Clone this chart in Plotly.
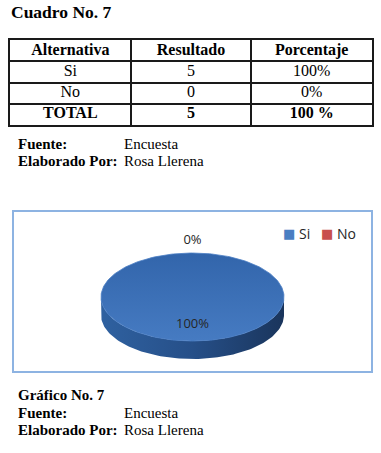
import numpy as np
import plotly.graph_objects as go

# ---------------- data ----------------
title_text = "Cuadro No. 7"
col_headers = ["Alternativa", "Resultado", "Porcentaje"]
alternativas = ["Si", "No", "TOTAL"]
resultados = [5, 0, 5]
porcentajes = ["100%", "0%", "100 %"]

pie_labels = ["Si", "No"]
pie_values = [5, 0]

fuente_label = "Fuente:"
fuente_value = "Encuesta"
elab_label = "Elaborado Por:"
elab_value = "Rosa Llerena"
grafico_title = "Gráfico No. 7"

# ---------------- style ----------------
W, H = 381, 453
SERIF = "Liberation Serif"
top_scales = {
    "Si": [[0, "#467BC2"], [1, "#3265AB"]],
    "No": [[0, "#D0605C"], [1, "#A63A37"]],
}
side_scales = {
    "Si": [[0, "#2F61A0"], [0.5, "#264F88"], [1, "#1A355C"]],
    "No": [[0, "#A33B38"], [0.5, "#8A2E2B"], [1, "#5E1D1B"]],
}
legend_colors = {"Si": "#4A7EC2", "No": "#C8504C"}

# pie geometry (pixel units of the full-page axes)
cx, cy, ra, rb, depth = 192.5, 297.0, 91.5, 44.0, 18.0


def ell(phi_deg, r=1.0, dy=0.0):
    p = np.radians(phi_deg)
    return cx + r * ra * np.sin(p), cy - r * rb * np.cos(p) + dy


fig = go.Figure()

# ---------------- table (drawn on its own axes: columns x 0..3, rows y 0..4) ----------------
def bold(s):
    return "<b>" + str(s) + "</b>"

columns = [alternativas, resultados, porcentajes]
tx, ty, tt = [], [], []
for ci, head in enumerate(col_headers):
    tx.append(ci + 0.5)
    ty.append(0.5)
    tt.append(bold(head))
    col = columns[ci]
    for ri, v in enumerate(col):
        tx.append(ci + 0.5)
        ty.append(ri + 1.5)
        tt.append(bold(v) if ri == len(col) - 1 else str(v))

fig.add_trace(go.Scatter(
    x=tx, y=ty, text=tt, mode="text", textposition="middle center",
    textfont=dict(family=SERIF, size=16, color="black"),
    xaxis="x2", yaxis="y2", hoverinfo="skip", showlegend=False,
))

# ---------------- 3D pie ----------------
total = float(sum(pie_values))
start = 0.0
slices = []
for lab, v in zip(pie_labels, pie_values):
    frac = v / total
    slices.append((lab, frac, start, start + 360.0 * frac))
    start += 360.0 * frac

# sides (front half only: angles 90..270 measured clockwise from top)
for lab, frac, p0, p1 in slices:
    lo, hi = max(p0, 90.0), min(p1, 270.0)
    if frac <= 0 or hi <= lo:
        continue
    ph = np.linspace(lo, hi, 120)
    xt, yt = ell(ph)
    xb, yb = ell(ph[::-1], dy=depth)
    fig.add_trace(go.Scatter(
        x=np.concatenate([xt, xb, xt[:1]]), y=np.concatenate([yt, yb, yt[:1]]),
        mode="lines", fill="toself", line=dict(width=0),
        fillgradient=dict(type="horizontal", colorscale=side_scales[lab]),
        hoverinfo="skip", showlegend=False,
    ))

# top faces
for lab, frac, p0, p1 in slices:
    if frac <= 0:
        continue
    ph = np.linspace(p0, p1, 240)
    xs, ys = ell(ph)
    if frac < 1:
        xs = np.concatenate([[cx], xs, [cx]])
        ys = np.concatenate([[cy], ys, [cy]])
    fig.add_trace(go.Scatter(
        x=xs, y=ys, mode="lines", fill="toself",
        line=dict(width=0.8, color="#4A7EC4"),
        fillgradient=dict(type="vertical", colorscale=top_scales[lab]),
        hoverinfo="skip", showlegend=False, name=lab,
    ))

# data labels
lx, ly, lt = [], [], []
for lab, frac, p0, p1 in slices:
    mid = (p0 + p1) / 2.0
    r = 0.62 if frac > 0.05 else 1.28
    x, y = ell(mid, r=r)
    lx.append(x)
    ly.append(y)
    lt.append(f"{round(frac * 100)}%")
fig.add_trace(go.Scatter(
    x=lx, y=ly, mode="text", text=lt,
    textfont=dict(family="Open Sans", size=13, color="#262626"),
    hoverinfo="skip", showlegend=False,
))

# chart frame
fig.add_shape(type="rect", xref="x", yref="y", x0=13, x1=372, y0=211, y1=372,
              line=dict(color="#8DB3E2", width=2), fillcolor="rgba(0,0,0,0)", layer="below")

# legend (as text)
leg_x = {"Si": (289, 297), "No": (327, 335)}
for lab in pie_labels:
    sx, lx_ = leg_x[lab]
    fig.add_annotation(x=sx, y=233, xref="x", yref="y", text="■", showarrow=False,
                       font=dict(family="DejaVu Sans", size=13, color=legend_colors[lab]),
                       xanchor="center", yanchor="middle")
    fig.add_annotation(x=lx_, y=233, xref="x", yref="y", text=lab, showarrow=False,
                       font=dict(family="Open Sans", size=14, color="#262626"),
                       xanchor="left", yanchor="middle")

# ---------------- document texts ----------------
def txt(x, y, s, size=15, is_bold=False):
    fig.add_annotation(x=x, y=y, xref="x", yref="y",
                       text=bold(s) if is_bold else s, showarrow=False,
                       font=dict(family=SERIF, size=size, color="black"),
                       xanchor="left", yanchor="middle")

txt(9, 12, title_text, size=17.5, is_bold=True)
txt(16, 144, fuente_label, is_bold=True)
txt(122, 144, fuente_value)
txt(16, 161, elab_label, is_bold=True)
txt(122, 161, elab_value)
txt(16, 395, grafico_title, is_bold=True)
txt(16, 413, fuente_label, is_bold=True)
txt(122, 413, fuente_value)
txt(16, 430, elab_label, is_bold=True)
txt(122, 430, elab_value)

grid_style = dict(showgrid=True, gridcolor="#1a1a1a", gridwidth=1.5,
                  showline=True, mirror=True, linecolor="#1a1a1a", linewidth=1.5,
                  zeroline=False, showticklabels=False, ticks="", fixedrange=True)

fig.update_layout(
    width=W, height=H,
    margin=dict(l=0, r=0, t=0, b=0),
    paper_bgcolor="white", plot_bgcolor="rgba(0,0,0,0)",
    showlegend=False,
    xaxis=dict(range=[0, W], visible=False, domain=[0, 1], fixedrange=True),
    yaxis=dict(range=[H, 0], visible=False, domain=[0, 1], fixedrange=True),
    xaxis2=dict(range=[0, 3], domain=[10 / W, 372 / W], anchor="y2",
                tickvals=[1, 2], **grid_style),
    yaxis2=dict(range=[4, 0], domain=[1 - 125 / H, 1 - 40 / H], anchor="x2",
                tickvals=[1, 2, 3], **grid_style),
)

fig.write_html("out.html")
